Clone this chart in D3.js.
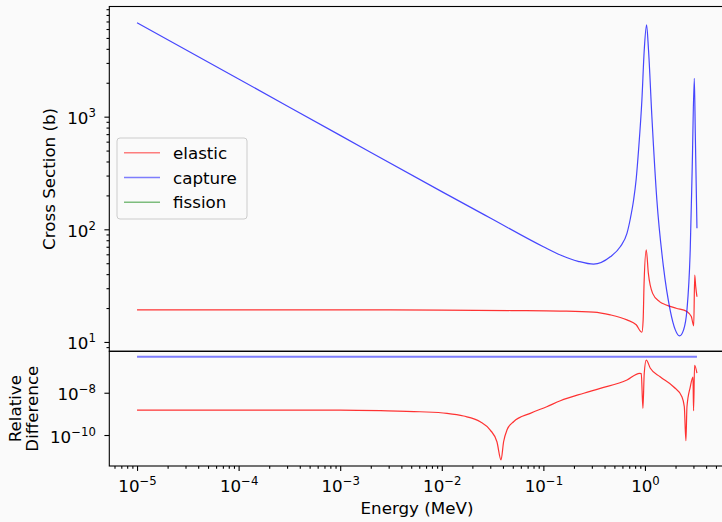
<!DOCTYPE html>
<html>
<head>
<meta charset="utf-8">
<script src="https://cdn.jsdelivr.net/npm/d3@7"></script>
<style>
  body { margin: 0; background: #fafafa; }
  svg { display: block; font-family: "DejaVu Sans", sans-serif; }
</style>
</head>
<body>
<div id="chart-area"></div>
<script>

// cross sections (b) vs energy (MeV)
const captureE  = [1e-5, 1e-4, 1e-3, 1e-2, 0.03, 0.1, 0.147, 0.22, 0.312, 0.456, 0.571, 0.665, 0.72, 0.773, 0.82, 0.865, 0.933, 0.984, 1.037, 1.084, 1.17, 1.31, 1.52, 1.77, 1.99, 2.19, 2.40, 2.59, 2.79, 2.92, 3.06, 3.13, 3.25];
const captureXS = [6820, 2160, 682, 216, 126, 70, 59.2, 52, 49, 57, 70, 92, 126, 182, 280, 506, 1406, 3900, 6520, 3900, 1000, 182, 46.6, 19.2, 12.8, 11.3, 12.8, 19.2, 65.6, 360, 2190, 710, 102];

const elasticE  = [1e-5, 1e-4, 1e-3, 1e-2, 0.05, 0.147, 0.312, 0.456, 0.665, 0.82, 0.933, 0.96, 0.98, 1.03, 1.08, 1.19, 1.39, 1.62, 2.03, 2.59, 2.86, 3.02, 3.09, 3.16, 3.25];
const elasticXS = [19.3, 19.3, 19.25, 19.2, 19.0, 18.8, 18.4, 17.4, 15.7, 14.2, 12.2, 15.7, 33, 65.6, 40.7, 27, 22.8, 21.3, 19.9, 18.6, 16.8, 13.9, 39.3, 31, 25.2];

// relative difference
const diffCaptureE = [1e-5, 3.25];
const diffCapture  = [5e-7, 5e-7];
const diffElasticE = [1e-5, 1e-4, 1e-3, 2.5e-3, 6.1e-3, 0.01125, 0.0164, 0.0239, 0.030, 0.0349, 0.0383, 0.0406, 0.0438, 0.0509, 0.0743, 0.108, 0.147, 0.25, 0.363, 0.665, 0.885, 0.92, 0.955, 0.984, 1.03, 1.13, 1.41, 1.91, 2.31, 2.44, 2.53, 2.59, 2.79, 2.97, 3.01, 3.08, 3.25];
const diffElastic  = [1.52e-9, 1.52e-9, 1.5e-9, 1.41e-9, 1.26e-9, 1.06e-9, 7.9e-10, 4.26e-10, 1.72e-10, 4.8e-11, 6.6e-12, 4.8e-11, 1.72e-10, 4.26e-10, 1.06e-9, 2.18e-9, 4.19e-9, 9.5e-9, 1.61e-8, 4.0e-8, 8.3e-8, 8e-8, 1.83e-9, 8.3e-8, 3.5e-7, 1.43e-7, 5.7e-8, 1.92e-8, 6.5e-9, 2.2e-9, 5.4e-11, 2.1e-9, 1.86e-8, 5.5e-8, 1.41e-9, 2.0e-7, 8.5e-8];

const xMajor = [1e-5, 1e-4, 1e-3, 1e-2, 1e-1, 1];
const yTopMajor = [10, 100, 1000];
const yBotMajor = [1e-10, 1e-8];
const legendNames = ["elastic", "capture", "fission"];
const legendColors = ["red", "blue", "green"];

const width = 722, height = 522;
const left = 109.3, right = 724.7;
const topY0 = 6.5, topY1 = 351.3, botY1 = 466;
const fs = "16.7px", fsSup = "11.7px";

const svg = d3.select("#chart-area").append("svg")
  .attr("width", width)
  .attr("height", height);

svg.append("rect").attr("width", width).attr("height", height).attr("fill", "#fafafa");

const x = d3.scaleLog().domain([10 ** -5.273, 10 ** 0.785]).range([left, right]);
const yTop = d3.scaleLog().domain([10 ** 0.917, 10 ** 3.978]).range([topY1, topY0]);
const yBot = d3.scaleLog().domain([10 ** -11.466, 10 ** -6.04]).range([botY1, topY1]);

function minorsBetween(lo, hi) {
  const out = [];
  for (let e = Math.floor(Math.log10(lo)); e <= Math.ceil(Math.log10(hi)); e++) {
    for (let m = 2; m <= 9; m++) {
      const v = m * 10 ** e;
      if (v >= lo && v <= hi) out.push(v);
    }
  }
  return out;
}

function supLabels(g) {
  g.selectAll(".tick text").each(function(d) {
    const t = d3.select(this);
    const e = Math.round(Math.log10(d));
    t.text(null);
    t.append("tspan").text("10");
    t.append("tspan").attr("dy", -7).attr("font-size", fsSup)
      .text(e < 0 ? "\u2212" + (-e) : String(e));
  });
}

function styleAxis(g) {
  g.select(".domain").remove();
  g.selectAll(".tick line").attr("stroke", "#000").attr("stroke-width", 1.1);
  g.selectAll(".tick text").attr("fill", "#000").attr("font-size", fs)
    .attr("font-family", "DejaVu Sans, sans-serif");
}

// line drawing
const lineTop = d3.line().x(d => x(d[0])).y(d => yTop(d[1])).curve(d3.curveMonotoneX);
const lineBot = d3.line().x(d => x(d[0])).y(d => yBot(d[1])).curve(d3.curveMonotoneX);

svg.append("path").datum(d3.zip(elasticE, elasticXS))
  .attr("d", lineTop).attr("fill", "none").attr("stroke", "red")
  .attr("stroke-opacity", 0.8).attr("stroke-width", 1.2);
svg.append("path").datum(d3.zip(captureE, captureXS))
  .attr("d", lineTop).attr("fill", "none").attr("stroke", "blue")
  .attr("stroke-opacity", 0.72).attr("stroke-width", 1.2);

svg.append("path").datum(d3.zip(diffCaptureE, diffCapture))
  .attr("d", lineBot).attr("fill", "none").attr("stroke", "blue")
  .attr("stroke-opacity", 0.5).attr("stroke-width", 2);
svg.append("path").datum(d3.zip(diffElasticE, diffElastic))
  .attr("d", lineBot).attr("fill", "none").attr("stroke", "red")
  .attr("stroke-opacity", 0.8).attr("stroke-width", 1.2);

// frames
svg.append("rect").attr("x", left).attr("y", topY0).attr("width", right - left).attr("height", topY1 - topY0)
  .attr("fill", "none").attr("stroke", "#000").attr("stroke-width", 1.1);
svg.append("rect").attr("x", left).attr("y", topY1).attr("width", right - left).attr("height", botY1 - topY1)
  .attr("fill", "none").attr("stroke", "#000").attr("stroke-width", 1.1);

// top y axis
svg.append("g").attr("transform", `translate(${left},0)`)
  .call(d3.axisLeft(yTop).tickValues(minorsBetween(yTop.domain()[0], yTop.domain()[1])).tickSize(2.8).tickFormat(""))
  .call(styleAxis);
svg.append("g").attr("transform", `translate(${left},0)`)
  .call(d3.axisLeft(yTop).tickValues(yTopMajor).tickSize(4.9).tickPadding(8.5))
  .call(styleAxis)
  .call(g => g.selectAll(".tick text").attr("dy", "0.42em"))
  .call(supLabels);

// bottom y axis
svg.append("g").attr("transform", `translate(${left},0)`)
  .call(d3.axisLeft(yBot).tickValues(yBotMajor).tickSize(4.9).tickPadding(8.5))
  .call(styleAxis)
  .call(g => g.selectAll(".tick text").attr("dy", "0.42em"))
  .call(supLabels);

// x axis
svg.append("g").attr("transform", `translate(0,${botY1})`)
  .call(d3.axisBottom(x).tickValues(minorsBetween(x.domain()[0], x.domain()[1])).tickSize(2.8).tickFormat(""))
  .call(styleAxis);
svg.append("g").attr("transform", `translate(0,${botY1})`)
  .call(d3.axisBottom(x).tickValues(xMajor).tickSize(4.9))
  .call(styleAxis)
  .call(g => g.selectAll(".tick text").attr("y", 25.5).attr("dy", 0))
  .call(supLabels);

// axis labels
svg.append("text").attr("transform", `translate(55,${(topY0 + topY1) / 2}) rotate(-90)`)
  .attr("text-anchor", "middle").attr("font-size", fs).text("Cross Section (b)");
svg.append("text").attr("transform", `translate(20.5,${(topY1 + botY1) / 2}) rotate(-90)`)
  .attr("text-anchor", "middle").attr("font-size", fs).text("Relative");
svg.append("text").attr("transform", `translate(37.5,${(topY1 + botY1) / 2}) rotate(-90)`)
  .attr("text-anchor", "middle").attr("font-size", fs).text("Difference");
svg.append("text").attr("x", (left + right) / 2).attr("y", 514)
  .attr("text-anchor", "middle").attr("font-size", fs).text("Energy (MeV)");

// legend
const legend = svg.append("g");
legend.append("rect").attr("x", 117).attr("y", 138).attr("width", 130).attr("height", 81).attr("rx", 3)
  .attr("fill", "#fafafa").attr("fill-opacity", 0.8).attr("stroke", "#cccccc").attr("stroke-width", 1);
legendNames.forEach((name, i) => {
  const cy = 152.7 + i * 24.8;
  legend.append("line").attr("x1", 124).attr("x2", 160).attr("y1", cy).attr("y2", cy)
    .attr("stroke", legendColors[i]).attr("stroke-opacity", 0.5).attr("stroke-width", 1.5);
  legend.append("text").attr("x", 173).attr("y", cy + 6).attr("font-size", fs).text(name);
});

</script>
</body>
</html>
